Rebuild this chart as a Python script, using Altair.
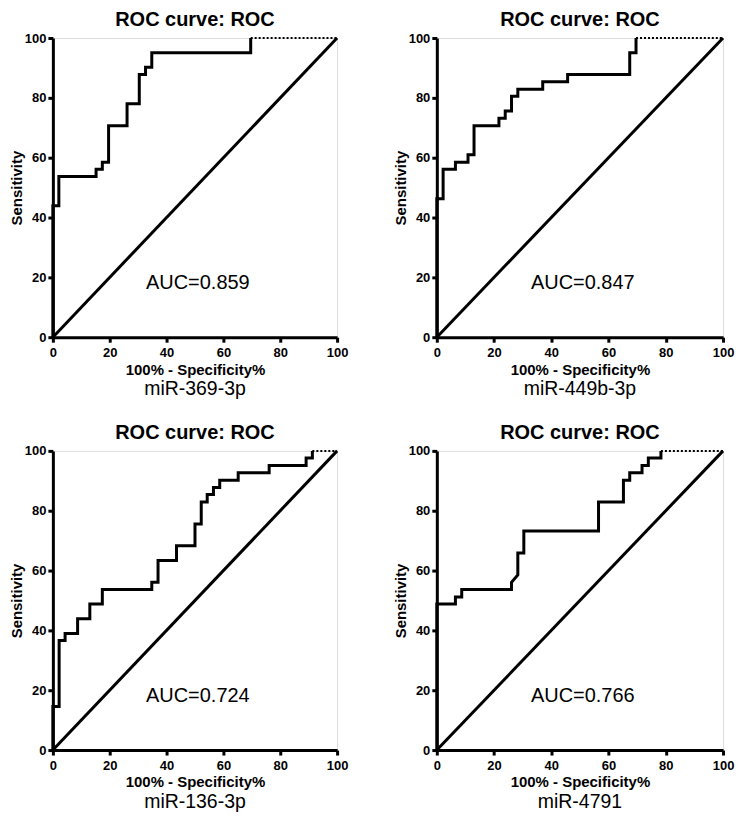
import altair as alt
import pandas as pd

# ---- data ----
names = ["miR-369-3p", "miR-449b-3p", "miR-136-3p", "miR-4791"]
auc_labels = ["AUC=0.859", "AUC=0.847", "AUC=0.724", "AUC=0.766"]

fpr_369 = [0, 0, 2.1, 2.1, 15.2, 15.2, 17.4, 17.4, 19.6, 19.6, 26.1, 26.1,
           30.4, 30.4, 32.6, 32.6, 34.8, 34.8, 69.6, 69.6]
tpr_369 = [0, 43.9, 43.9, 53.7, 53.7, 56.1, 56.1, 58.5, 58.5, 70.7, 70.7, 78.0,
           78.0, 87.8, 87.8, 90.2, 90.2, 95.1, 95.1, 100]

fpr_449 = [0, 0, 2.2, 2.2, 6.5, 6.5, 10.9, 10.9, 13.0, 13.0, 21.7, 21.7, 23.9,
           23.9, 26.1, 26.1, 28.3, 28.3, 37.0, 37.0, 45.7, 45.7, 67.4, 67.4,
           69.6, 69.6]
tpr_449 = [0, 46.3, 46.3, 56.1, 56.1, 58.5, 58.5, 61.0, 61.0, 70.7, 70.7, 73.2,
           73.2, 75.6, 75.6, 80.5, 80.5, 82.9, 82.9, 85.4, 85.4, 87.8, 87.8,
           95.1, 95.1, 100]

fpr_136 = [0, 0, 2.2, 2.2, 4.3, 4.3, 8.7, 8.7, 13.0, 13.0, 17.4, 17.4, 34.8,
           34.8, 37.0, 37.0, 43.5, 43.5, 50.0, 50.0, 52.2, 52.2, 54.3, 54.3,
           56.5, 56.5, 58.7, 58.7, 65.2, 65.2, 76.1, 76.1, 89.1, 89.1, 91.3, 91.3]
tpr_136 = [0, 14.6, 14.6, 36.6, 36.6, 39.0, 39.0, 43.9, 43.9, 48.8, 48.8, 53.7,
           53.7, 56.1, 56.1, 63.4, 63.4, 68.3, 68.3, 75.6, 75.6, 82.9, 82.9,
           85.4, 85.4, 87.8, 87.8, 90.2, 90.2, 92.7, 92.7, 95.1, 95.1, 97.6,
           97.6, 100]

fpr_4791 = [0, 0, 6.5, 6.5, 8.7, 8.7, 26.1, 26.1, 28.3, 28.3, 30.4, 30.4, 56.5,
            56.5, 65.2, 65.2, 67.4, 67.4, 71.7, 71.7, 73.9, 73.9, 78.3, 78.3]
tpr_4791 = [0, 48.8, 48.8, 51.2, 51.2, 53.7, 53.7, 56.1, 58.5, 65.9, 65.9, 73.2,
            73.2, 82.9, 82.9, 90.2, 90.2, 92.7, 92.7, 95.1, 95.1, 97.6, 97.6, 100]

# start of the dotted segment at sensitivity 100 for each panel
dotted_start = [69.6, 69.6, 91.3, 78.3]

ticks = [0, 20, 40, 60, 80, 100]
diag_x = [0, 100]
diag_y = [0, 100]

FONT = "Liberation Sans"
H = 300


def axis(title, title_pad, label_pad):
    return alt.Axis(
        values=ticks, grid=False, title=title,
        domainColor="black", domainWidth=3,
        tickColor="black", tickWidth=3, tickSize=5,
        labelFont=FONT, labelFontWeight="bold", labelFontSize=13,
        labelColor="black", labelPadding=label_pad, labelFlush=False,
        titleFont=FONT, titleFontWeight="bold", titleFontSize=15,
        titleColor="black", titlePadding=title_pad,
    )


def X():
    return alt.X("x:Q", scale=alt.Scale(domain=[0, 100], nice=False),
                 axis=axis("100% - Specificity%", 3, 4))


def Y():
    return alt.Y("y:Q", scale=alt.Scale(domain=[0, 100], nice=False),
                 axis=axis("Sensitivity", 0, 2))


def panel(fpr, tpr, dstart, auc_label, name, w):
    roc_df = pd.DataFrame({"x": fpr, "y": tpr, "i": list(range(len(fpr)))})
    roc = alt.Chart(roc_df).mark_line(
        color="black", strokeWidth=3, strokeJoin="miter"
    ).encode(x=X(), y=Y(), order="i:Q")

    diag = alt.Chart(pd.DataFrame({"x": diag_x, "y": diag_y})).mark_line(
        color="black", strokeWidth=3
    ).encode(x=X(), y=Y())

    dot = alt.Chart(pd.DataFrame({"x": [dstart, 100], "y": [100, 100]})).mark_line(
        color="black", strokeWidth=2, strokeDash=[2, 2]
    ).encode(x=X(), y=Y())

    auc = alt.Chart(pd.DataFrame({"t": [auc_label]})).mark_text(
        font=FONT, fontSize=20, color="black", align="center", baseline="middle"
    ).encode(x=alt.datum(51), y=alt.datum(18), text="t:N")

    lab = alt.Chart(pd.DataFrame({"t": [name]})).mark_text(
        font=FONT, fontSize=19.5, color="black", align="center", baseline="middle"
    ).encode(x=alt.value(w / 2), y=alt.value(H + 52), text="t:N")

    return alt.layer(dot, roc, diag, auc, lab).properties(
        width=w, height=H,
        title=alt.TitleParams("ROC curve: ROC", font=FONT, fontSize=20,
                              fontWeight="bold", color="black",
                              anchor="middle", offset=2),
    )


p1 = panel(fpr_369, tpr_369, dotted_start[0], auc_labels[0], names[0], 285)
p2 = panel(fpr_449, tpr_449, dotted_start[1], auc_labels[1], names[1], 287)
p3 = panel(fpr_136, tpr_136, dotted_start[2], auc_labels[2], names[2], 285)
p4 = panel(fpr_4791, tpr_4791, dotted_start[3], auc_labels[3], names[3], 287)

chart = alt.vconcat(
    alt.hconcat(p1, p2, spacing=43),
    alt.hconcat(p3, p4, spacing=43),
    spacing=23,
).properties(
    padding={"left": 0, "top": 0, "right": 0, "bottom": 0}
).configure_view(strokeWidth=0).configure(background="white")

chart.save("out.html", embed_options={"renderer": "svg", "actions": False})
